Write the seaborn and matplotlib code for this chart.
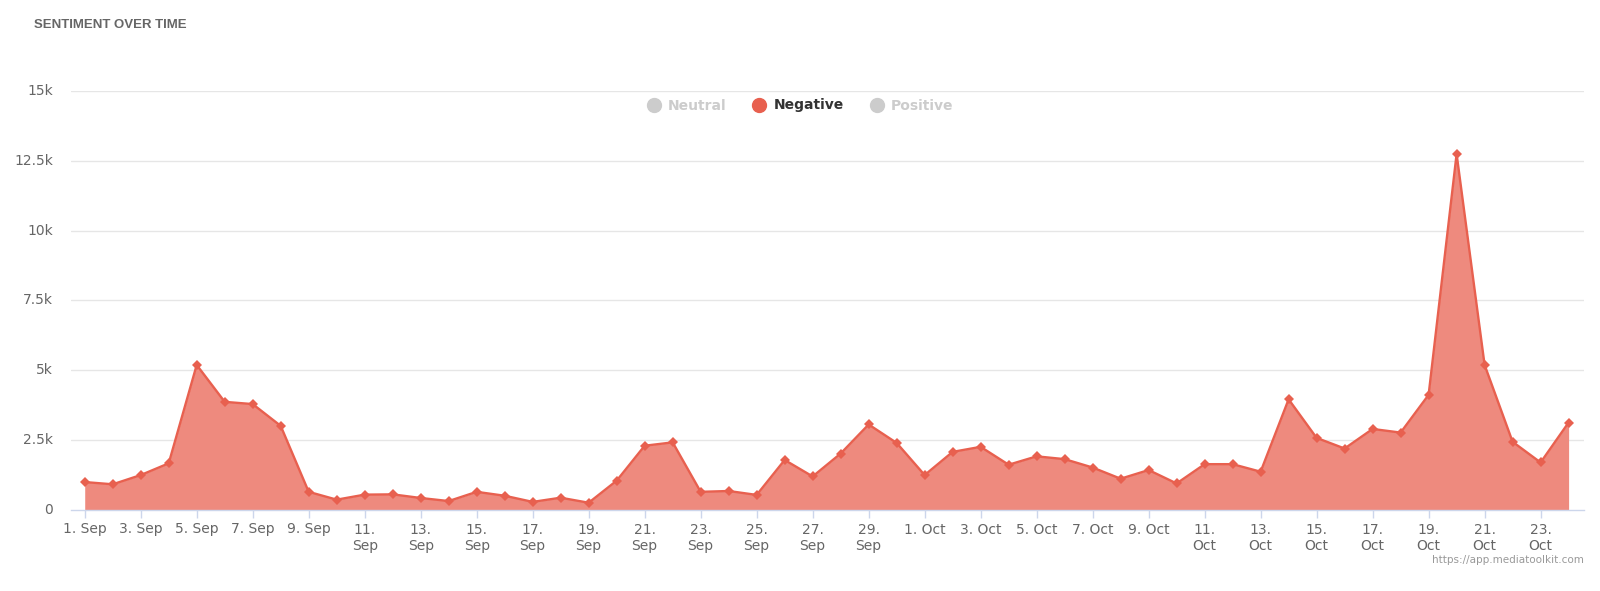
import matplotlib
matplotlib.use("Agg")
import matplotlib.pyplot as plt
from matplotlib.lines import Line2D
import seaborn as sns
import pandas as pd
import numpy as np

# ---- data ----
dates = [f"{d} Sep" for d in range(1, 31)] + [f"{d} Oct" for d in range(1, 25)]
negative = [1000, 920, 1250, 1670, 5190, 3870, 3790, 3010, 650, 370,
            550, 560, 430, 320, 650, 510, 290, 440, 260, 1050,
            2300, 2420, 650, 680, 540, 1790, 1200, 2020, 3060, 2400,
            1250, 2080, 2260, 1620, 1920, 1820, 1520, 1120, 1430, 950,
            1640, 1640, 1370, 3960, 2580, 2200, 2900, 2770, 4120, 12740,
            5190, 2440, 1700, 3130]
tick_labels = ["1. Sep", "3. Sep", "5. Sep", "7. Sep", "9. Sep", "11.\nSep",
               "13.\nSep", "15.\nSep", "17.\nSep", "19.\nSep", "21.\nSep",
               "23.\nSep", "25.\nSep", "27.\nSep", "29.\nSep", "1. Oct",
               "3. Oct", "5. Oct", "7. Oct", "9. Oct", "11.\nOct", "13.\nOct",
               "15.\nOct", "17.\nOct", "19.\nOct", "21.\nOct", "23.\nOct"]
y_ticks = [0, 2500, 5000, 7500, 10000, 12500, 15000]
y_tick_labels = ["0", "2.5k", "5k", "7.5k", "10k", "12.5k", "15k"]
legend_names = ["Neutral", "Negative", "Positive"]

df = pd.DataFrame({"idx": np.arange(len(dates)), "date": dates, "value": negative})

LINE = "#E8604F"
FILL = "#EE8A7E"
GRID = "#E6E6E6"
AXIS = "#CCD6EB"
TXT = "#666666"

sns.set_theme(style="white")
plt.rcParams["font.family"] = ["DejaVu Sans"]

fig = plt.figure(figsize=(16, 5.91), dpi=100)
ax = fig.add_axes([71 / 1600, 81 / 591, (1584 - 71) / 1600, (510 - 90.8) / 591])

ax.fill_between(df["idx"], df["value"], 0, color=FILL, linewidth=0, zorder=2)
sns.lineplot(data=df, x="idx", y="value", ax=ax, color=LINE, linewidth=1.7,
             marker="D", markersize=5.5, markeredgewidth=0, zorder=3)

ax.set_xlim(-0.49, 53.55)
ax.set_ylim(0, 15000)
ax.set_yticks(y_ticks)
ax.set_yticklabels(y_tick_labels)
ax.set_xticks(np.arange(0, len(dates), 2))
ax.set_xticklabels(tick_labels, linespacing=1.25)
ax.set_xlabel("")
ax.set_ylabel("")

for y in y_ticks[1:]:
    ax.axhline(y, color=GRID, linewidth=1, zorder=1)

for s in ["top", "right", "left"]:
    ax.spines[s].set_visible(False)
ax.spines["bottom"].set_color(AXIS)
ax.spines["bottom"].set_linewidth(1)
ax.spines["bottom"].set_zorder(4)

ax.tick_params(axis="y", length=0, pad=13, labelsize=10, labelcolor=TXT)
ax.tick_params(axis="x", length=6, width=1, color=AXIS, pad=3, labelsize=10,
               labelcolor=TXT, bottom=True, direction="out")
for lbl in ax.get_yticklabels():
    lbl.set_verticalalignment("center")

# title
fig.text(34 / 1600, 1 - 25 / 591, "SENTIMENT OVER TIME", fontsize=9.5,
         fontweight="bold", color=TXT, ha="left", va="center",
         family=["Liberation Sans", "DejaVu Sans"])

# legend
handles = [
    Line2D([], [], marker="o", linestyle="", markersize=10, color="#CCCCCC"),
    Line2D([], [], marker="o", linestyle="", markersize=10, color=LINE),
    Line2D([], [], marker="o", linestyle="", markersize=10, color="#CCCCCC"),
]
leg = fig.legend(handles, legend_names, loc="center", ncol=3,
                 bbox_to_anchor=(800 / 1600, 1 - 105.5 / 591), frameon=False,
                 handletextpad=0.5, columnspacing=1.9, handlelength=1.0,
                 prop={"weight": "bold", "size": 10})
for t, c in zip(leg.get_texts(), ["#CCCCCC", "#333333", "#CCCCCC"]):
    t.set_color(c)

# credit
fig.text(1584 / 1600, 1 - 560 / 591, "https://app.mediatoolkit.com",
         fontsize=7.5, color="#999999", ha="right", va="center")

fig.savefig("out.png", dpi=100, facecolor="white")
